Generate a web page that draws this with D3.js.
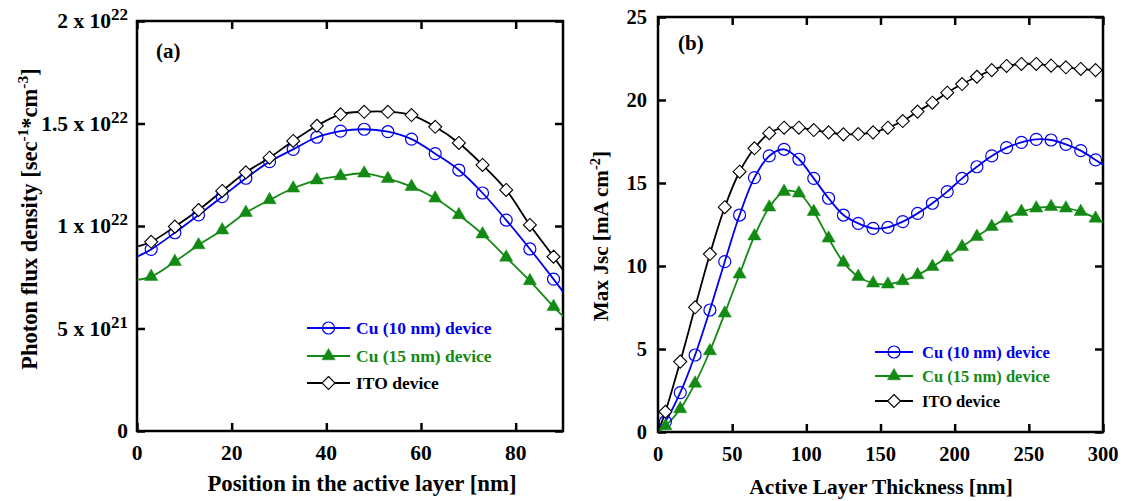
<!DOCTYPE html>
<html><head><meta charset="utf-8">
<script src="https://cdn.jsdelivr.net/npm/d3@7"></script>
<style>
html,body{margin:0;padding:0;background:#fff;}
svg{display:block;font-family:"Liberation Serif","Times New Roman",serif;font-weight:bold;}
</style></head>
<body>
<svg id="chart" width="1125" height="501"></svg>
<script>
// ---------- Panel (a) data ----------
const posX = [0,3,8,13,18,23,28,33,38,43,48,53,58,63,68,73,78,83,88,90];
const fluxCu10 = [0.85,0.886,0.967,1.054,1.143,1.233,1.314,1.374,1.433,1.463,1.472,1.46,1.424,1.353,1.273,1.161,1.029,0.888,0.741,0.68];
const fluxCu15 = [0.737,0.753,0.826,0.907,0.980,1.065,1.127,1.184,1.224,1.244,1.257,1.231,1.192,1.135,1.054,0.96,0.847,0.732,0.606,0.56];
const fluxITO  = [0.90,0.923,0.997,1.078,1.171,1.262,1.333,1.415,1.489,1.545,1.557,1.557,1.541,1.484,1.405,1.298,1.176,1.005,0.85,0.785];
const fluxScale = 1e22;
const aXTicks = [0,20,40,60,80];
const aYTicks = [0,5e21,1e22,1.5e22,2e22];
const aYTickMant = ["0","5 x 10","1 x 10","1.5 x 10","2 x 10"];
const aYTickExp  = ["","21","22","22","22"];

// ---------- Panel (b) data ----------
const thickX = [0,5,15,25,35,45,55,65,75,85,95,105,115,125,135,145,155,165,175,185,195,205,215,225,235,245,255,265,275,285,295,300];
const jscCu10 = [0,0.62,2.37,4.64,7.35,10.26,13.07,15.32,16.63,17.03,16.43,15.28,14.08,13.07,12.57,12.27,12.33,12.67,13.17,13.78,14.48,15.28,15.98,16.63,17.13,17.45,17.63,17.59,17.33,16.95,16.39,16.1];
const jscCu15 = [0,0.36,1.39,2.93,4.88,7.15,9.5,11.8,13.54,14.48,14.38,13.27,11.67,10.22,9.36,8.96,8.9,9.1,9.46,9.96,10.52,11.16,11.77,12.37,12.87,13.27,13.48,13.57,13.48,13.27,12.87,12.6];
const jscITO  = [0,1.22,4.24,7.51,10.72,13.54,15.68,17.09,18.0,18.33,18.33,18.19,18.05,17.93,17.95,18.05,18.33,18.73,19.3,19.84,20.44,20.96,21.4,21.8,22.05,22.17,22.17,22.07,21.97,21.87,21.8,21.78];
const bXTicks = [0,50,100,150,200,250,300];
const bYTicks = [0,5,10,15,20,25];

const seriesNames = ["Cu (10 nm) device","Cu (15 nm) device","ITO device"];
const seriesColors = ["#0000ee","#138a13","#000000"];
const seriesSymbols = ["circle","triangle","diamond"];

const svg = d3.select("#chart");

function marker(g, type, color, x, y){
  if(type==="circle"){
    g.append("circle").attr("cx",x).attr("cy",y).attr("r",6)
      .attr("fill","none").attr("stroke",color).attr("stroke-width",1.2);
  } else if(type==="triangle"){
    g.append("path").attr("transform",`translate(${x},${y})`)
      .attr("d",d3.symbol(d3.symbolTriangle,75)()).attr("fill",color).attr("stroke",color).attr("stroke-width",0.5);
  } else {
    const s=6.5;
    g.append("path").attr("transform",`translate(${x},${y})`)
      .attr("d",`M0,${-s}L${s},0L0,${s}L${-s},0Z`).attr("fill","#fff").attr("stroke",color).attr("stroke-width",1.1);
  }
}

function panel(opt){
  const {x0,x1,y0,y1,xDomain,yDomain,xs,ys,xTicks,yTicks,markerIdx,tickFs} = opt;
  const x = d3.scaleLinear().domain(xDomain).range([x0,x1]);
  const y = d3.scaleLinear().domain(yDomain).range([y0,y1]);
  const g = svg.append("g");
  const tl = 8;
  const fmtNone = ()=>"";
  g.append("g").attr("transform",`translate(0,${y0})`)
    .call(d3.axisBottom(x).tickValues(xTicks).tickSize(-tl).tickFormat(fmtNone));
  g.append("g").attr("transform",`translate(0,${y1})`)
    .call(d3.axisTop(x).tickValues(xTicks).tickSize(-tl).tickFormat(fmtNone));
  g.append("g").attr("transform",`translate(${x0},0)`)
    .call(d3.axisLeft(y).tickValues(yTicks).tickSize(-tl).tickFormat(fmtNone));
  g.append("g").attr("transform",`translate(${x1},0)`)
    .call(d3.axisRight(y).tickValues(yTicks).tickSize(-tl).tickFormat(fmtNone));
  g.selectAll(".domain").remove();
  g.selectAll(".tick line").attr("stroke","#000").attr("stroke-width",2.5);
  g.append("rect").attr("x",x0).attr("y",y1).attr("width",x1-x0).attr("height",y0-y1)
    .attr("fill","none").attr("stroke","#000").attr("stroke-width",2.5);
  const line = d3.line().x((d,i)=>x(xs[i])).y(d=>y(d)).curve(d3.curveCatmullRom.alpha(0.5));
  ys.forEach((vals,k)=>{
    g.append("path").attr("d",line(vals)).attr("fill","none")
      .attr("stroke",seriesColors[k]).attr("stroke-width",1.8);
  });
  ys.forEach((vals,k)=>{
    const mg=g.append("g");
    vals.forEach((v,i)=>{ if(markerIdx(i)) marker(mg,seriesSymbols[k],seriesColors[k],x(xs[i]),y(v)); });
  });
  xTicks.forEach(t=>{
    g.append("text").attr("x",x(t)).attr("y",y0+29).attr("text-anchor","middle")
      .attr("font-size",tickFs).text(t);
  });
  return {x,y,g};
}

// Panel (a)
const pa = panel({x0:137,x1:563,y0:431,y1:21,xDomain:[0,90],yDomain:[0,2e22],
  xs:posX, ys:[fluxCu10,fluxCu15,fluxITO].map(a=>a.map(v=>v*fluxScale)),
  xTicks:aXTicks,yTicks:aYTicks, markerIdx:i=>i>0&&i<posX.length-1, tickFs:21.5});
aYTicks.forEach((t,i)=>{
  const tx = pa.g.append("text").attr("x",128).attr("y",pa.y(t)+7).attr("text-anchor","end").attr("font-size",21.5);
  tx.append("tspan").text(aYTickMant[i]);
  if(aYTickExp[i]) tx.append("tspan").attr("font-size",17).attr("dy",-8).text(aYTickExp[i]);
});
pa.g.append("text").attr("x",156).attr("y",58).attr("font-size",21).text("(a)");
pa.g.append("text").attr("x",362).attr("y",491).attr("text-anchor","middle").attr("font-size",22.8)
  .text("Position in the active layer [nm]");
{
  const t = pa.g.append("text").attr("transform","translate(37,219) rotate(-90)")
    .attr("text-anchor","middle").attr("font-size",22.5);
  t.append("tspan").text("Photon flux density [sec");
  t.append("tspan").attr("font-size",15.5).attr("dy",-9).text("-1");
  t.append("tspan").attr("dy",9).text("*cm");
  t.append("tspan").attr("font-size",15.5).attr("dy",-9).text("-3");
  t.append("tspan").attr("dy",9).text("]");
}

// Panel (b)
const pb = panel({x0:658,x1:1103,y0:432,y1:17,xDomain:[0,300],yDomain:[0,25],
  xs:thickX, ys:[jscCu10,jscCu15,jscITO],
  xTicks:bXTicks,yTicks:bYTicks, markerIdx:i=>i>0&&i<thickX.length-1, tickFs:20.5});
bYTicks.forEach(t=>{
  pb.g.append("text").attr("x",647).attr("y",pb.y(t)+7).attr("text-anchor","end").attr("font-size",20.5).text(t);
});
pb.g.append("text").attr("x",678).attr("y",50).attr("font-size",21).text("(b)");
pb.g.append("text").attr("x",881).attr("y",494).attr("text-anchor","middle").attr("font-size",21.4)
  .text("Active Layer Thickness [nm]");
{
  const t = pb.g.append("text").attr("transform","translate(608,236) rotate(-90)")
    .attr("text-anchor","middle").attr("font-size",21.2);
  t.append("tspan").text("Max Jsc [mA cm");
  t.append("tspan").attr("font-size",14.5).attr("dy",-8).text("-2");
  t.append("tspan").attr("dy",8).text("]");
}

// Legends
function legend(lx0,lx1,tx,rows,fs){
  const g=svg.append("g");
  seriesNames.forEach((n,k)=>{
    const yy=rows[k];
    g.append("line").attr("x1",lx0).attr("x2",lx1).attr("y1",yy).attr("y2",yy)
      .attr("stroke",seriesColors[k]).attr("stroke-width",1.8);
    marker(g,seriesSymbols[k],seriesColors[k],(lx0+lx1)/2,yy);
    g.append("text").attr("x",tx).attr("y",yy+6).attr("font-size",fs)
      .attr("fill",seriesColors[k]).text(n);
  });
}
legend(307,350,356,[328,356,383],17.5);
legend(875,913,922,[352,376,401],16.5);
</script>
</body></html>
